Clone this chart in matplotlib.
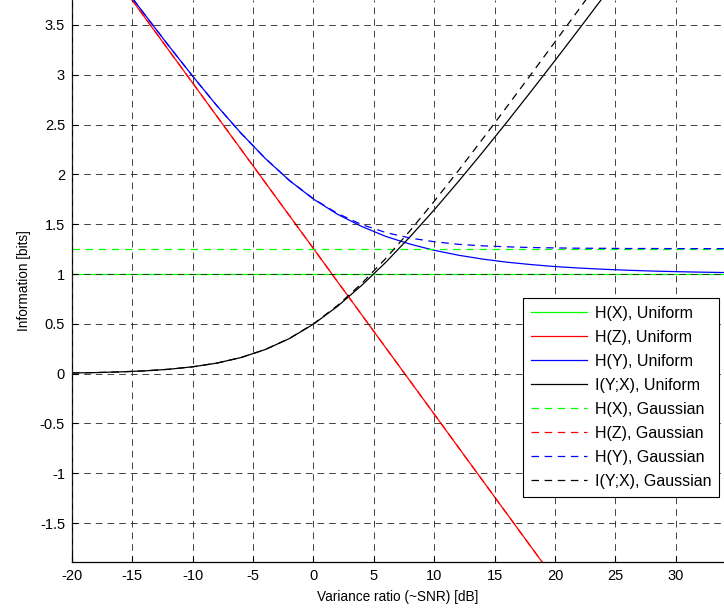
import matplotlib
matplotlib.use("Agg")
from matplotlib import pyplot as plt

# Variance ratio (~SNR) in dB
snr_db = [-20, -18, -16, -14, -12, -10, -8, -6, -4, -2, 0, 2, 4, 6, 8, 10,
          12, 14, 16, 18, 20, 22, 24, 26, 28, 30, 32, 34]

# Uniform input
hx_uniform = [1.0] * len(snr_db)
hz_uniform = [4.577, 4.244, 3.912, 3.580, 3.248, 2.916, 2.583, 2.251, 1.919, 1.587,
              1.255, 0.922, 0.590, 0.258, -0.074, -0.406, -0.739, -1.071, -1.403,
              -1.735, -2.067, -2.399, -2.732, -3.064, -3.396, -3.728, -4.060, -4.393]
hy_uniform = [4.584, 4.255, 3.930, 3.608, 3.292, 2.985, 2.689, 2.413, 2.161, 1.939,
              1.752, 1.599, 1.477, 1.377, 1.300, 1.238, 1.189, 1.150, 1.119, 1.095,
              1.075, 1.060, 1.048, 1.038, 1.030, 1.024, 1.019, 1.015]
i_uniform = [0.007, 0.011, 0.018, 0.028, 0.044, 0.069, 0.106, 0.162, 0.242, 0.352,
             0.497, 0.677, 0.887, 1.119, 1.374, 1.644, 1.928, 2.221, 2.522, 2.830,
             3.142, 3.459, 3.780, 4.102, 4.426, 4.752, 5.079, 5.408]

# Gaussian input
hx_gauss = [1.2546] * len(snr_db)
hz_gauss = hz_uniform
hy_gauss = [4.584, 4.255, 3.930, 3.608, 3.292, 2.985, 2.689, 2.413, 2.161, 1.940,
            1.755, 1.607, 1.496, 1.416, 1.361, 1.324, 1.298, 1.283, 1.273, 1.266,
            1.262, 1.259, 1.258, 1.256, 1.256, 1.255, 1.255, 1.255]
i_gauss = [0.007, 0.011, 0.018, 0.028, 0.044, 0.069, 0.106, 0.162, 0.242, 0.353,
           0.500, 0.685, 0.906, 1.158, 1.435, 1.730, 2.037, 2.354, 2.676, 3.001,
           3.329, 3.659, 3.989, 4.320, 4.652, 4.984, 5.315, 5.647]

x_ticks = [-20, -15, -10, -5, 0, 5, 10, 15, 20, 25, 30]
y_ticks = [-1.5, -1, -0.5, 0, 0.5, 1, 1.5, 2, 2.5, 3, 3.5]
y_tick_labels = ["-1.5", "-1", "-0.5", "0", "0.5", "1", "1.5", "2", "2.5", "3", "3.5"]

plt.rcParams['font.family'] = ['Liberation Sans', 'DejaVu Sans']
plt.rcParams['axes.unicode_minus'] = False

fig = plt.figure(figsize=(7.24, 6.10), dpi=100)
ax = fig.add_axes([72 / 724, 48 / 610, 652 / 724, 562 / 610])

lw = 0.9
dash = (0, (6, 4.5))
ax.plot(snr_db, hx_uniform, color=(0, 1, 0), lw=lw, label="H(X), Uniform")
ax.plot(snr_db, hz_uniform, color=(1, 0, 0), lw=lw, label="H(Z), Uniform")
ax.plot(snr_db, hy_uniform, color=(0, 0, 1), lw=lw, label="H(Y), Uniform")
ax.plot(snr_db, i_uniform, color=(0, 0, 0), lw=lw, label="I(Y;X), Uniform")
ax.plot(snr_db, hx_gauss, color=(0, 1, 0), lw=lw, ls=dash, label="H(X), Gaussian")
ax.plot(snr_db, hz_gauss, color=(1, 0, 0), lw=lw, ls=dash, label="H(Z), Gaussian")
ax.plot(snr_db, hy_gauss, color=(0, 0, 1), lw=lw, ls=dash, label="H(Y), Gaussian")
ax.plot(snr_db, i_gauss, color=(0, 0, 0), lw=lw, ls=dash, label="I(Y;X), Gaussian")

ax.set_xlim(-20, 34.0)
ax.set_ylim(-1.89, 3.75)
ax.set_xticks(x_ticks)
ax.set_yticks(y_ticks)
ax.set_yticklabels(y_tick_labels)
ax.tick_params(direction='in', length=4, width=0.8, labelsize=10.5, pad=5)
ax.grid(True, color='#222222', lw=0.6, ls=(0, (8, 6)))
ax.set_axisbelow(False)
ax.spines['top'].set_visible(False)
ax.spines['right'].set_visible(False)
ax.spines['left'].set_linewidth(0.9)
ax.spines['bottom'].set_linewidth(0.9)

ax.set_xlabel("Variance ratio (~SNR) [dB]", fontsize=9.8, labelpad=5)
ax.set_ylabel("Information [bits]", fontsize=9.8, labelpad=6)

leg = ax.legend(loc='upper right', bbox_to_anchor=(719 / 724, 1 - 298 / 610),
                bbox_transform=fig.transFigure, fontsize=11.5, fancybox=False,
                framealpha=1, edgecolor='black', handlelength=3.5,
                labelspacing=0.56, borderpad=0.5, handletextpad=0.45,
                borderaxespad=0)
leg.get_frame().set_linewidth(0.8)
leg.set_zorder(5)

fig.savefig("out.png", dpi=100)
